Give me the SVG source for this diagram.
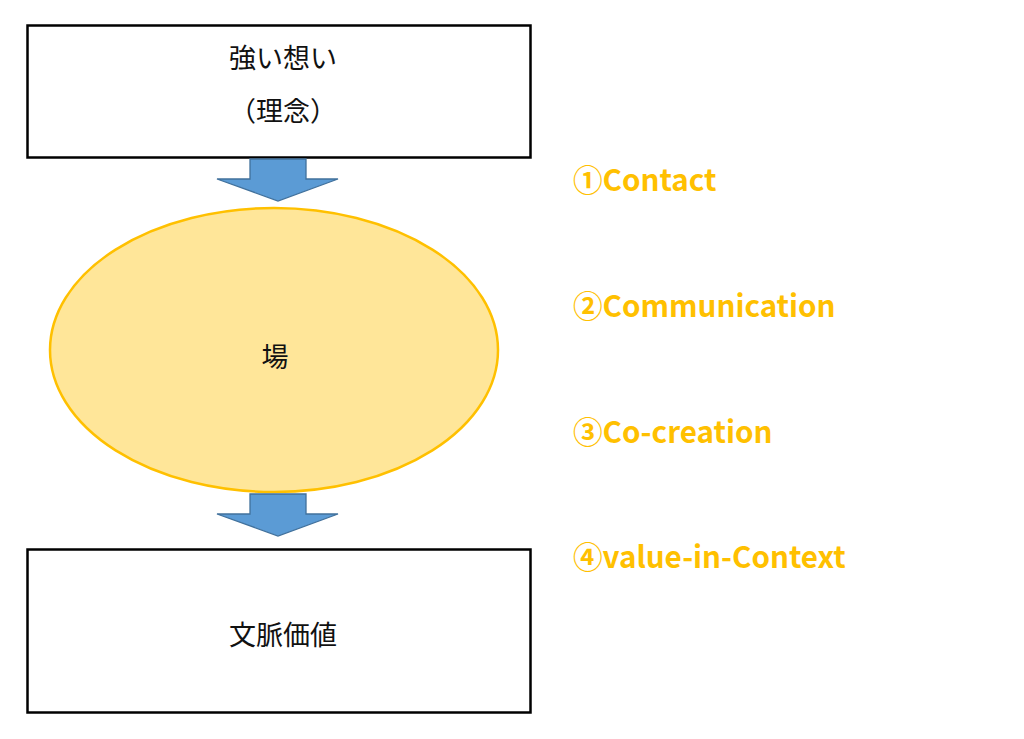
<svg xmlns="http://www.w3.org/2000/svg" width="1024" height="739" viewBox="0 0 1024 739">
<style>
.box{fill:#fff;stroke:#000;stroke-width:2.5}
.arr{fill:#5B9BD5;stroke:#41719C;stroke-width:1.3}
.t{font-family:"Noto Sans CJK JP","Noto Sans",sans-serif;font-size:27px;fill:#111;text-anchor:middle}
.lbl{font-family:"Noto Sans CJK JP","Noto Sans",sans-serif;font-size:29.6px;font-weight:bold;fill:#FFC000}
</style>
<rect width="1024" height="739" fill="#fff"/>
<g id="top">
<rect class="box" x="27.5" y="25.5" width="503" height="132"/>
<text class="t" x="283" y="68">強い想い</text>
<text class="t" x="283" y="121">（理念）</text>
</g>
<g id="ba">
<ellipse cx="274" cy="350" rx="224" ry="142" fill="#FFE699" stroke="#FFC000" stroke-width="2.5"/>
<text class="t" x="275" y="367">場</text>
</g>
<g id="bottom">
<rect class="box" x="27.5" y="549.5" width="503" height="163"/>
<text class="t" x="283" y="645">文脈価値</text>
</g>
<g id="connectors">
<polygon class="arr" points="250,159 306,159 306,179 338,179 278,201 217,179 250,179"/>
<polygon class="arr" points="250,494 306,494 306,514 338,514 278,536 217,514 250,514"/>
</g>
<g id="labels">
<text class="lbl" x="573" y="191">①Contact</text>
<text class="lbl" x="573" y="317">②Communication</text>
<text class="lbl" x="573" y="443">③Co-creation</text>
<text class="lbl" x="573" y="568">④value-in-Context</text>
</g>
</svg>
